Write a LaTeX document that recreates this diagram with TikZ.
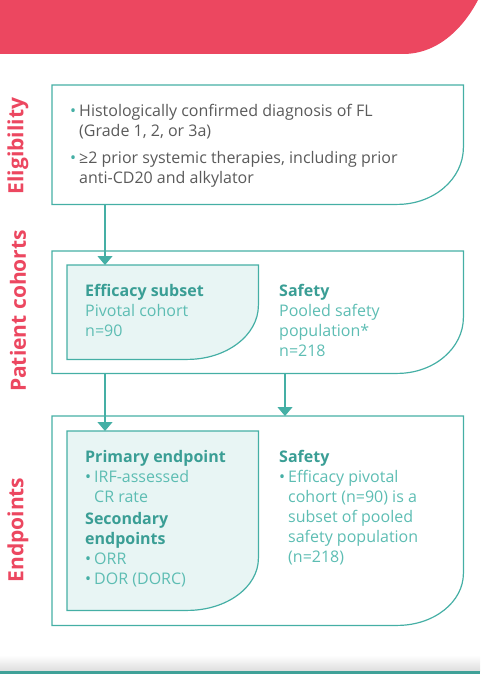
\documentclass[tikz,border=0pt]{standalone}
\usepackage{fontspec}
\setmainfont{Open Sans}
\usetikzlibrary{arrows.meta}

\definecolor{bannerred}{HTML}{EC4760}
\definecolor{tealline}{HTML}{45AFA5}
\definecolor{headteal}{HTML}{3A9E95}
\definecolor{lightteal}{HTML}{5DBDB3}
\definecolor{greytext}{HTML}{5A5A5A}
\definecolor{tealfill}{HTML}{E8F5F4}

% box with one round corner (bottom right)
\newcommand{\leafbox}[5][]{%
  \draw[#1] (#2) -- (#2 -| #3) -- ([yshift=#5pt]#3)
    .. controls ([yshift=#5pt*0.448]#3) and ([xshift=-#4pt*0.448]#3) .. ([xshift=-#4pt]#3)
    -- (#2 |- #3) -- cycle;}
\newcommand{\bul}{\makebox[9pt][l]{\textcolor{tealline}{\textbullet}}}
\newcommand{\ind}{\hspace*{9pt}}

\begin{document}
\begin{tikzpicture}[x=1pt, y=-1pt,
    area/.style={inner sep=0pt, anchor=north west},
    flow/.style={draw=tealline, line width=1.2pt, -{Triangle[width=15pt,length=9pt]}},
    boxline/.style={draw=tealline, line width=1.2pt},
    body/.style={anchor=north west, align=left, inner sep=0pt,
                 font=\fontsize{16}{20}\selectfont},
    sidelabel/.style={rotate=90, text=bannerred, font=\fontsize{21}{24}\selectfont\bfseries}]
  \useasboundingbox (0,0) rectangle (480,674);

  % banner and footer
  \fill[bannerred] (0,0) -- (478,0) .. controls (465,25) and (440,54) .. (403,54) -- (0,54) -- cycle;
  \shade[top color=white, bottom color=black!13] (0,655) rectangle (480,671);
  \fill[tealline!92!black] (0,671) rectangle (480,674);

  % areas
  \node[area, minimum width=411pt, minimum height=119pt] (elig) at (52,85) {};
  \node[area, minimum width=411pt, minimum height=122pt] (cohort) at (52,251) {};
  \node[area, minimum width=191pt, minimum height=94pt] (eff) at (67,265) {};
  \node[area, minimum width=411pt, minimum height=209pt] (endp) at (52,416) {};
  \node[area, minimum width=191pt, minimum height=179pt] (prim) at (67,431) {};
  \coordinate (colL) at (105,0);
  \coordinate (colR) at (285,0);

  \leafbox[boxline]{elig.north west}{elig.south east}{66}{57}
  \leafbox[boxline]{cohort.north west}{cohort.south east}{66}{56}
  \leafbox[boxline, fill=tealfill]{eff.north west}{eff.south east}{71}{54}
  \leafbox[boxline]{endp.north west}{endp.south east}{66}{52}
  \leafbox[boxline, fill=tealfill]{prim.north west}{prim.south east}{71}{52}

  % side labels
  \node[sidelabel] (labelig) at (18,146) {Eligibility};
  \node[sidelabel] (labcoh) at (18,311) {Patient cohorts};
  \node[sidelabel] (labend) at (18,530) {Endpoints};

  % texts (top edge = first baseline - 12)
  \node[body, text=greytext] (eligtxt) at (70,104)
    {\bul Histologically confirmed diagnosis of FL\\ \ind(Grade 1, 2, or 3a)\\[7pt]
     \bul ≥2 prior systemic therapies, including prior\\ \ind anti-CD20 and alkylator};
  \node[body, text=lightteal] (efftxt) at (85,284)
    {\textcolor{headteal}{\bfseries Efficacy subset}\\ Pivotal cohort\\ n=90};
  \node[body, text=lightteal] (safetxt) at (279,284)
    {\textcolor{headteal}{\bfseries Safety}\\ Pooled safety\\ population*\\ n=218};
  \node[body, text=lightteal] (primtxt) at (85,450)
    {\textcolor{headteal}{\bfseries Primary endpoint}\\ \bul IRF-assessed\\ \ind CR rate\\[2pt]
     \textcolor{headteal}{\bfseries Secondary}\\ \textcolor{headteal}{\bfseries endpoints}\\
     \bul ORR\\ \bul DOR (DORC)};
  \node[body, text=lightteal] (safe2txt) at (279,450)
    {\textcolor{headteal}{\bfseries Safety}\\ \bul Efficacy pivotal\\ \ind cohort (n=90) is a\\
     \ind subset of pooled\\ \ind safety population\\ \ind (n=218)};

  % connectors
  \draw[flow] (elig.south -| colL) -- (eff.north -| colL);
  \draw[flow] (cohort.south -| colL) -- (prim.north -| colL);
  \draw[flow] (cohort.south -| colR) -- (endp.north -| colR);
\end{tikzpicture}
\end{document}
